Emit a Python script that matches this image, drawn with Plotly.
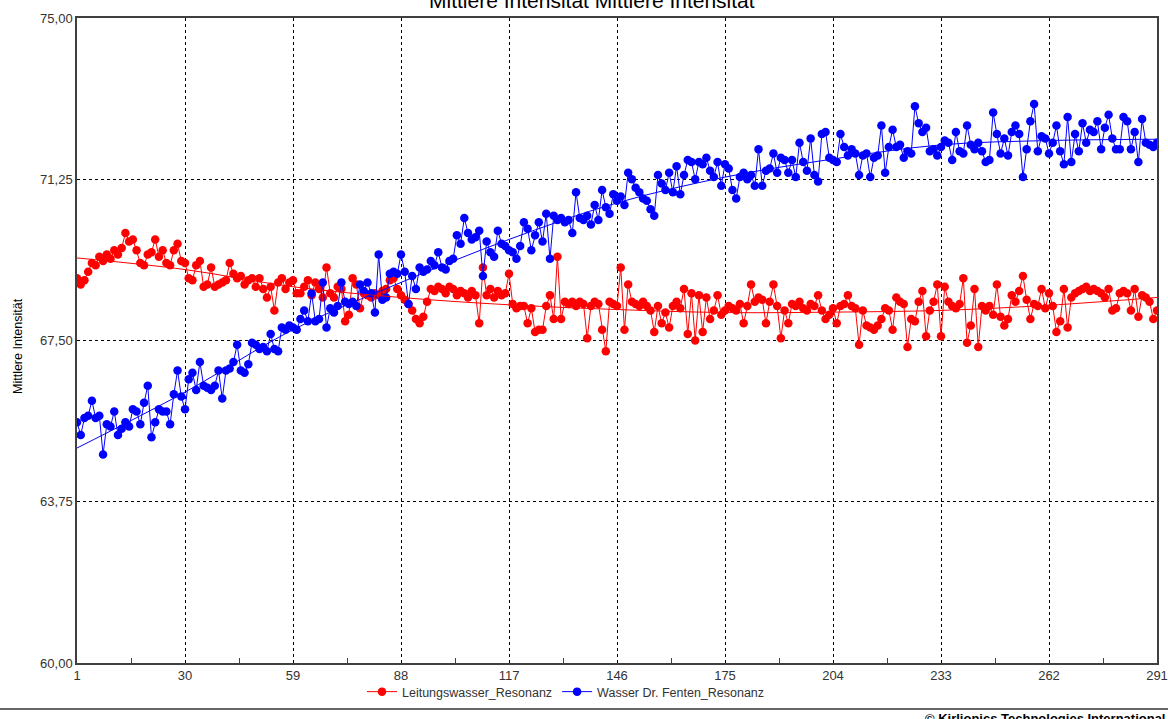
import plotly.graph_objects as go

# ---------------- data ----------------
x_vals = list(range(1, 292))

red_vals = [
    68.95, 68.8, 68.9, 69.1, 69.3, 69.25, 69.45, 69.35, 69.5, 69.4,
    69.6, 69.5, 69.65, 70.0, 69.8, 69.85, 69.6, 69.3, 69.25, 69.5,
    69.55, 69.85, 69.45, 69.6, 69.3, 69.25, 69.6, 69.75, 69.35, 69.3,
    68.95, 68.9, 69.25, 69.35, 68.75, 68.8, 69.2, 68.75, 68.8, 68.85,
    68.9, 69.3, 69.05, 68.95, 69.0, 68.8, 68.9, 68.95, 68.75, 68.95,
    68.7, 68.5, 68.75, 68.2, 68.85, 68.95, 68.7, 68.85, 68.9, 68.6,
    68.6, 68.75, 68.9, 68.55, 68.85, 68.7, 68.5, 69.2, 68.6, 68.5,
    68.75, 68.7, 67.95, 68.1, 68.95, 68.8, 68.25, 68.6, 68.55, 68.5,
    68.6, 68.55, 68.65, 68.7, 68.9, 68.95, 68.7, 68.55, 68.45, 68.35,
    68.2, 68.0, 67.9, 68.05, 68.4, 68.7, 68.65, 68.75, 68.7, 68.6,
    68.75, 68.7, 68.55, 68.65, 68.6, 68.5, 68.65, 68.55, 67.9, 69.2,
    68.55, 68.7, 68.5, 68.65, 68.55, 68.6, 69.05, 68.35, 68.25, 68.3,
    68.3, 67.9, 68.25, 67.7, 67.75, 67.75, 68.3, 68.55, 68.0, 69.45,
    68.0, 68.4, 68.35, 68.4, 68.3, 68.4, 68.35, 67.55, 68.3, 68.4,
    68.35, 67.75, 67.25, 68.4, 68.35, 68.3, 69.2, 67.75, 68.8, 68.4,
    68.35, 68.3, 68.4, 68.3, 68.2, 67.7, 68.3, 67.9, 68.15, 67.8,
    68.3, 68.4, 68.25, 68.7, 67.65, 68.6, 67.5, 68.55, 67.7, 68.5,
    68.0, 68.2, 68.55, 68.1, 68.2, 68.3, 68.25, 68.2, 68.35, 67.9,
    68.3, 68.8, 68.4, 68.5, 68.45, 67.9, 68.4, 68.8, 68.3, 67.55,
    68.2, 67.9, 68.35, 68.3, 68.4, 68.25, 68.2, 68.35, 68.3, 68.55,
    68.2, 68.0, 68.1, 68.25, 67.9, 68.3, 68.35, 68.55, 68.3, 68.25,
    67.4, 68.2, 67.85, 67.8, 67.75, 67.85, 68.0, 68.25, 68.2, 67.75,
    68.5, 68.4, 68.35, 67.35, 68.0, 67.95, 68.4, 68.65, 67.6, 68.2,
    68.4, 68.8, 67.6, 68.75, 68.4, 68.3, 68.25, 68.35, 68.95, 67.45,
    67.85, 68.7, 67.35, 68.3, 68.2, 68.3, 68.1, 68.8, 68.05, 67.85,
    68.0, 68.55, 68.4, 68.65, 69.0, 68.45, 68.0, 68.35, 68.3, 68.7,
    68.25, 68.6, 68.3, 67.7, 67.95, 68.7, 67.8, 68.5, 68.6, 68.65,
    68.7, 68.75, 68.65, 68.7, 68.65, 68.6, 68.5, 68.7, 68.2, 68.25,
    68.6, 68.65, 68.6, 68.2, 68.7, 68.05, 68.55, 68.5, 68.4, 68.0, 68.2,
]

blue_vals = [
    65.6, 65.3, 65.7, 65.75, 66.1, 65.7, 65.75, 64.85, 65.55, 65.5,
    65.85, 65.3, 65.45, 65.6, 65.5, 65.9, 65.85, 65.55, 66.05, 66.45,
    65.25, 65.6, 65.9, 65.85, 65.85, 65.55, 66.25, 66.8, 66.2, 65.9,
    66.6, 66.75, 66.35, 67.0, 66.45, 66.4, 66.35, 66.45, 66.8, 66.15,
    66.8, 66.85, 67.0, 67.4, 66.8, 66.75, 66.95, 67.45, 67.4, 67.3,
    67.35, 67.25, 67.65, 67.3, 67.25, 67.8, 67.75, 67.85, 67.8, 67.75,
    68.0, 68.2, 67.95, 68.6, 67.95, 68.0, 68.85, 67.8, 68.25, 68.15,
    68.3, 68.85, 68.4, 68.35, 68.4, 68.3, 68.8, 68.65, 68.85, 68.6,
    68.15, 69.5, 68.45, 68.5, 69.05, 69.1, 69.05, 69.5, 69.1, 68.35,
    69.0, 68.7, 69.2, 69.1, 69.15, 69.35, 69.25, 69.55, 69.2, 69.15,
    69.35, 69.4, 69.95, 69.75, 70.35, 70.0, 69.85, 69.9, 70.05, 69.0,
    69.8, 69.55, 69.45, 70.05, 69.75, 69.7, 69.6, 69.55, 69.4, 69.7,
    70.25, 70.1, 69.6, 69.95, 70.25, 69.8, 70.45, 69.4, 70.4, 70.3,
    70.35, 70.25, 70.3, 70.0, 70.95, 70.35, 70.3, 70.4, 70.2, 70.65,
    70.3, 71.0, 70.6, 70.45, 70.9, 70.75, 70.85, 70.65, 71.4, 71.25,
    71.05, 70.95, 70.8, 70.75, 70.55, 70.4, 71.35, 71.15, 71.0, 71.4,
    70.95, 71.55, 70.9, 71.35, 71.7, 71.65, 71.25, 71.65, 71.6, 71.75,
    71.45, 71.3, 71.65, 71.1, 71.6, 71.5, 71.0, 70.8, 71.3, 71.4,
    71.25, 71.35, 71.1, 71.95, 71.1, 71.45, 71.5, 71.85, 71.4, 71.75,
    71.7, 71.4, 71.7, 71.3, 72.1, 71.65, 71.45, 72.2, 71.35, 71.2,
    72.3, 72.35, 71.75, 71.7, 71.65, 72.3, 72.0, 71.8, 71.95, 71.85,
    71.35, 71.8, 71.85, 71.3, 71.75, 71.8, 72.5, 71.4, 72.0, 72.4,
    72.0, 72.05, 71.75, 71.9, 71.85, 72.95, 72.55, 72.35, 72.45, 71.9,
    71.95, 71.8, 72.0, 72.15, 72.1, 71.7, 72.35, 71.9, 71.85, 72.5,
    72.05, 71.95, 72.1, 71.9, 71.65, 71.7, 72.8, 72.3, 71.85, 72.2,
    71.8, 72.35, 72.5, 72.3, 71.3, 71.95, 72.6, 73.0, 71.9, 72.25,
    72.2, 71.85, 72.1, 72.5, 71.9, 71.6, 72.7, 71.65, 72.3, 71.9,
    72.55, 72.1, 72.4, 72.35, 72.6, 71.95, 72.45, 72.75, 72.2, 71.95,
    71.95, 72.7, 72.6, 71.95, 72.35, 71.65, 72.65, 72.1, 72.05, 72.0, 72.1,
]

trend_x = [1, 30, 59, 88, 117, 146, 175, 204, 233, 262, 291]
red_trend = [69.42, 69.15, 68.75, 68.5, 68.33, 68.22, 68.15, 68.16, 68.2, 68.32, 68.5]
blue_trend = [65.0, 66.3, 67.75, 68.85, 69.85, 70.7, 71.3, 71.72, 72.05, 72.15, 72.18]

x_ticks = [1, 30, 59, 88, 117, 146, 175, 204, 233, 262, 291]
y_ticks = [60.0, 63.75, 67.5, 71.25, 75.0]
y_tick_text = ["60,00", "63,75", "67,50", "71,25", "75,00"]

series_names = ["Leitungswasser_Resonanz", "Wasser Dr. Fenten_Resonanz"]
title_text = "Mittlere Intensität Mittlere Intensität"
y_title = "Mittlere Intensität"
copyright_text = "© Kirlionics Technologies International"

RED = "#FF0000"
BLUE = "#0000FF"
FONT = "Liberation Sans, Arial, sans-serif"

fig = go.Figure()

fig.add_trace(go.Scatter(
    x=x_vals, y=red_vals, mode="lines+markers", name=series_names[0],
    line=dict(color=RED, width=1), marker=dict(color=RED, size=8.5, symbol="circle"),
))
fig.add_trace(go.Scatter(
    x=x_vals, y=blue_vals, mode="lines+markers", name=series_names[1],
    line=dict(color=BLUE, width=1), marker=dict(color=BLUE, size=8.5, symbol="circle"),
))
fig.add_trace(go.Scatter(
    x=trend_x, y=red_trend, mode="lines", showlegend=False, hoverinfo="skip",
    line=dict(color=RED, width=1, shape="spline"),
))
fig.add_trace(go.Scatter(
    x=trend_x, y=blue_trend, mode="lines", showlegend=False, hoverinfo="skip",
    line=dict(color=BLUE, width=1, shape="spline"),
))

L, R, T, B = 77, 11, 18, 56
W, H = 1168, 719
pw, ph = W - L - R, H - T - B

def px_x(p):
    return (p - L) / pw

def px_y(p):
    return (H - B - p) / ph

fig.update_layout(
    width=W, height=H, autosize=False,
    margin=dict(l=L, r=R, t=T, b=B, pad=0, autoexpand=False),
    paper_bgcolor="white", plot_bgcolor="white",
    font=dict(family=FONT, size=11, color="#333333"),
    showlegend=True,
    legend=dict(
        orientation="h", x=px_x(566), xanchor="center", y=px_y(692), yanchor="middle",
        font=dict(family=FONT, size=12.5, color="#333333"),
        bgcolor="rgba(0,0,0,0)", tracegroupgap=0,
    ),
    xaxis=dict(
        range=[1, 291], tickmode="array", tickvals=x_ticks,
        ticktext=[str(v) for v in x_ticks], automargin=False,
        showgrid=True, gridcolor="#000000", gridwidth=1, griddash="3px,3px",
        showline=True, linecolor="#404040", linewidth=1.5, mirror=True,
        ticks="", zeroline=False,
        minor=dict(tickvals=[(a + b) / 2 for a, b in zip(x_ticks[:-1], x_ticks[1:])],
                   ticks="inside", ticklen=5, tickcolor="#404040", tickwidth=1, showgrid=False),
        tickfont=dict(family=FONT, size=13, color="#333333"),
    ),
    yaxis=dict(
        range=[60, 75], tickmode="array", tickvals=y_ticks, ticktext=y_tick_text,
        automargin=False,
        showgrid=True, gridcolor="#000000", gridwidth=1, griddash="3px,3px",
        showline=True, linecolor="#404040", linewidth=1.5, mirror=True,
        ticks="", zeroline=False,
        tickfont=dict(family=FONT, size=13, color="#333333"),
    ),
    annotations=[
        dict(text=title_text, xref="paper", yref="paper", x=px_x(592), y=px_y(0),
             xanchor="center", yanchor="middle", showarrow=False,
             font=dict(family=FONT, size=21, color="#000000")),
        dict(text=y_title, xref="paper", yref="paper", x=px_x(18), y=px_y(346),
             xanchor="center", yanchor="middle", textangle=-90, showarrow=False,
             font=dict(family=FONT, size=12.5, color="#000000")),
        dict(text="<b>" + copyright_text + "</b>", xref="paper", yref="paper",
             x=px_x(1167), y=px_y(718), xanchor="right", yanchor="middle",
             showarrow=False, font=dict(family=FONT, size=13, color="#000000")),
    ],
    shapes=[
        dict(type="line", xref="paper", yref="paper", x0=px_x(0), x1=px_x(W),
             y0=px_y(709), y1=px_y(709), line=dict(color="#333333", width=1.5)),
    ],
)

fig.write_html("out.html")
